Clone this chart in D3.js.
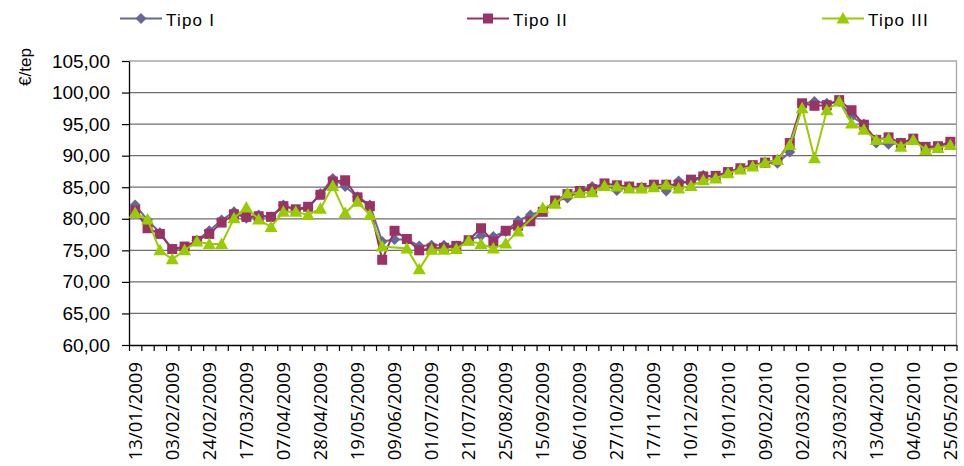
<!DOCTYPE html>
<html>
<head>
<meta charset="utf-8">
<script src="https://cdn.jsdelivr.net/npm/d3@7"></script>
<style>
  body { margin: 0; background: #fff; }
  svg { display: block; }
</style>
</head>
<body>
<div id="chart"></div>
<script>
// weekly series, 67 points (13/01/2009 .. 25/05/2010)
const tipoI = [82.2, 79.8, 77.8, 75.2, 75.3, 76.6, 78.1, 79.8, 81.1, 80.1, 80.6, 80.3, 82.2, 81.4, 81.7, 84.0, 86.4, 85.1, 83.5, 82.2,
  76.4, 76.7, 76.7, 75.7, 75.8, 75.8, 75.7, 76.6, 77.3, 77.2, 78.0, 79.7, 80.6, 81.3, 82.8, 83.3, 84.4, 85.1, 85.4, 84.5,
  85.1, 85.0, 85.3, 84.4, 86.0, 85.6, 86.9, 86.6, 87.3, 88.0, 88.5, 88.9, 88.8, 90.6, 98.2, 98.6, 98.3, 98.6, 96.2, 95.0,
  92.0, 91.8, 92.0, 92.6, 91.3, 91.4, 92.0];
const tipoII = [81.3, 78.5, 77.6, 75.2, 75.6, 76.5, 77.6, 79.4, 80.7, 80.3, 80.4, 80.3, 82.0, 81.5, 81.9, 83.8, 85.9, 86.1, 83.4, 82.0,
  73.5, 78.1, 76.8, 75.0, 75.3, 75.4, 75.7, 76.6, 78.5, 76.4, 78.1, 78.9, 79.6, 81.1, 82.9, 83.9, 84.4, 84.7, 85.6, 85.3,
  85.1, 84.9, 85.4, 85.4, 85.4, 86.2, 86.7, 86.8, 87.4, 88.0, 88.5, 88.9, 89.3, 92.0, 98.3, 97.9, 98.0, 98.8, 97.2, 94.9,
  92.5, 92.9, 92.0, 92.7, 91.4, 91.5, 92.2];
const tipoIII = [80.9, 79.9, 75.0, 73.6, 75.0, 76.4, 76.0, 76.0, 80.1, 81.8, 79.9, 78.7, 81.1, 81.1, 80.6, 81.6, 85.2, 80.9, 82.7, 80.6,
  75.6, null, 75.3, 72.0, 75.1, 75.1, 75.2, 76.5, 76.0, 75.3, 76.1, 78.0, null, 81.7, 82.4, 84.0, 84.1, 84.2, 85.2, 85.1,
  84.8, 84.8, 85.0, 85.4, 84.8, 85.2, 86.1, 86.4, 87.2, 87.8, 88.3, 88.9, 89.3, 91.7, 97.5, 89.6, 97.2, 98.6, 95.1, 94.1,
  92.5, 92.7, 91.4, 92.5, 90.9, 91.2, 91.7];

// one label every third week
const dateLabels = ["13/01/2009", "03/02/2009", "24/02/2009", "17/03/2009", "07/04/2009", "28/04/2009", "19/05/2009",
  "09/06/2009", "01/07/2009", "21/07/2009", "25/08/2009", "15/09/2009", "06/10/2009", "27/10/2009", "17/11/2009",
  "10/12/2009", "19/01/2010", "09/02/2010", "02/03/2010", "23/03/2010", "13/04/2010", "04/05/2010", "25/05/2010"];
const labelStep = 3;

const yTicks = [60, 65, 70, 75, 80, 85, 90, 95, 100, 105];

const seriesNames = ["Tipo I", "Tipo II", "Tipo III"];
const seriesColors = ["#666699", "#993366", "#99CC00"];
const seriesShapes = ["diamond", "square", "triangle"];

const W = 964, H = 466;
const plotLeft = 129, plotRight = 956.5, plotTop = 61, plotBottom = 345;
const n = tipoI.length;

const svg = d3.select("#chart").append("svg")
  .attr("width", W)
  .attr("height", H);

// scales
const xEdge = d3.scaleLinear().domain([0, n]).range([plotLeft, plotRight]);
const xc = i => xEdge(i + 0.5);
const y = d3.scaleLinear().domain([60, 105]).range([plotBottom, plotTop]);

const fmt = d => d3.format(".2f")(d).replace(".", ",");

// gridlines
svg.append("g")
  .selectAll("line")
  .data(yTicks.filter(t => t > 60 && t < 105))
  .join("line")
  .attr("x1", plotLeft).attr("x2", plotRight)
  .attr("y1", d => y(d)).attr("y2", d => y(d))
  .attr("stroke", "#6e6e6e")
  .attr("stroke-width", 1.3);

// plot border top/right
svg.append("path")
  .attr("d", `M${plotLeft},${y(105)}H${plotRight}V${plotBottom}`)
  .attr("fill", "none")
  .attr("stroke", "#a8a8a8")
  .attr("stroke-width", 1.3);

// y axis
const yAxis = svg.append("g")
  .attr("transform", `translate(${plotLeft},0)`)
  .call(d3.axisLeft(y).tickValues(yTicks).tickFormat(fmt).tickSize(7).tickSizeOuter(0).tickPadding(12));
yAxis.select(".domain").attr("stroke", "#000").attr("stroke-width", 1.3);
yAxis.selectAll(".tick line").attr("stroke", "#000").attr("stroke-width", 1.2);
yAxis.selectAll("text")
  .attr("font-family", "'Liberation Sans', Arial, sans-serif")
  .attr("font-size", 19)
  .attr("fill", "#000");

// x axis (ticks between categories)
const xAxis = svg.append("g")
  .attr("transform", `translate(0,${plotBottom})`)
  .call(d3.axisBottom(xEdge).tickValues(d3.range(0, n + 1)).tickFormat("").tickSize(6).tickSizeOuter(0));
xAxis.select(".domain").attr("stroke", "#000").attr("stroke-width", 1.3);
xAxis.selectAll(".tick line").attr("stroke", "#000").attr("stroke-width", 1.2);

svg.append("g")
  .selectAll("text")
  .data(dateLabels)
  .join("text")
  .attr("transform", (d, k) => `translate(${xc(k * labelStep) + 6.5},${plotBottom + 17}) rotate(-90)`)
  .attr("text-anchor", "end")
  .attr("font-family", "'Open Sans', sans-serif")
  .attr("font-size", 18.5)
  .attr("fill", "#000")
  .text(d => d);

// y title
svg.append("text")
  .attr("transform", "translate(31,67) rotate(-90)")
  .attr("text-anchor", "middle")
  .attr("font-family", "'Liberation Sans', Arial, sans-serif")
  .attr("font-size", 17)
  .attr("fill", "#000")
  .text("€/tep");

// marker shapes
function markerPath(shape) {
  if (shape === "diamond") return "M0,-5.5L5.5,0L0,5.5L-5.5,0Z";
  if (shape === "square") return "M-5,-5H5V5H-5Z";
  return "M0,-6.5L6.5,5L-6.5,5Z";
}

const line = d3.line()
  .x(d => xc(d.i))
  .y(d => y(d.v));

const allSeries = [tipoI, tipoII, tipoIII];

allSeries.forEach((vals, s) => {
  const pts = vals.map((v, i) => ({ i, v })).filter(d => d.v !== null);
  const g = svg.append("g");
  g.append("path")
    .datum(pts)
    .attr("d", line)
    .attr("fill", "none")
    .attr("stroke", seriesColors[s])
    .attr("stroke-width", 2);
  g.selectAll("path.mk")
    .data(pts)
    .join("path")
    .attr("class", "mk")
    .attr("transform", d => `translate(${xc(d.i)},${y(d.v)})`)
    .attr("d", markerPath(seriesShapes[s]))
    .attr("fill", seriesColors[s]);
});

// legend
const legendX = [120, 467, 822];
const legend = svg.append("g")
  .selectAll("g")
  .data(seriesNames)
  .join("g")
  .attr("transform", (d, s) => `translate(${legendX[s]},18.5)`);

legend.append("line")
  .attr("x1", 0).attr("x2", 42)
  .attr("stroke", (d, s) => seriesColors[s])
  .attr("stroke-width", 2);
legend.append("path")
  .attr("transform", "translate(21,0)")
  .attr("d", (d, s) => markerPath(seriesShapes[s]))
  .attr("fill", (d, s) => seriesColors[s]);
legend.append("text")
  .attr("x", 46)
  .attr("y", 7)
  .attr("font-family", "'Liberation Sans', Arial, sans-serif")
  .attr("font-size", 17)
  .attr("letter-spacing", 1.2)
  .attr("fill", "#000")
  .text(d => d);
</script>
</body>
</html>
